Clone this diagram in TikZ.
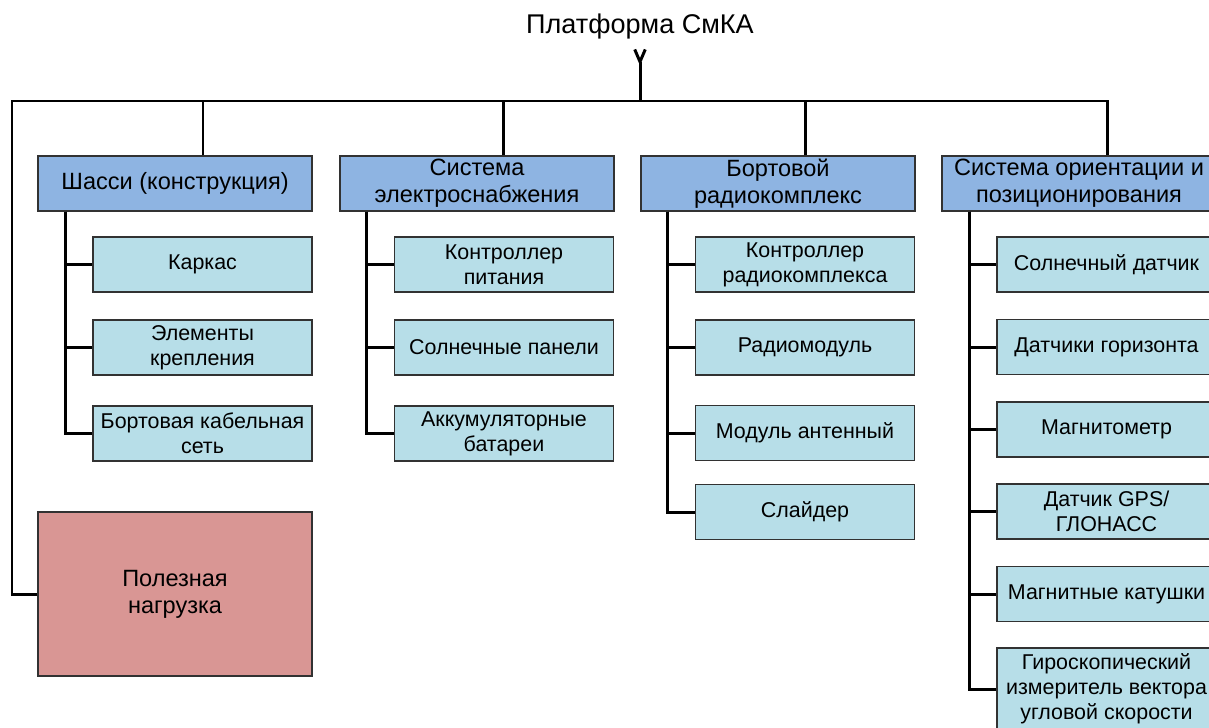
\documentclass[tikz,border=0pt]{standalone}
\usepackage{fontspec}
\setmainfont{Liberation Sans}
\usetikzlibrary{positioning, calc, arrows.meta}

\definecolor{hdrblue}{RGB}{142,180,226}
\definecolor{subblue}{RGB}{183,222,232}
\definecolor{loadred}{RGB}{217,150,148}
\definecolor{boxline}{RGB}{50,50,50}

\tikzset{
  hdr/.style={draw=boxline, line width=0.8pt, fill=hdrblue, minimum width=5.48cm, minimum height=1.1cm, align=center, inner sep=1pt, font=\fontsize{13.4}{15.3}\selectfont},
  sub/.style={draw=boxline, line width=0.8pt, fill=subblue, minimum width=4.38cm, minimum height=1.1cm, align=center, inner sep=1pt, font=\fontsize{12.2}{14.2}\selectfont},
  wire/.style={line width=1.7pt, black}
}

\begin{document}
\begin{tikzpicture}[x=0.02cm, y=-0.02cm]
			\clip (0,0) rectangle (1209,727);
			\fill[white] (0,0) rectangle (1209,727);

			\node (nt) [inner sep=0pt, font=\fontsize{15.4}{17}\selectfont] at (640,27) {Платформа СмКА};
			\coordinate (busl) at (12,101);

			\node (n1) [hdr] at (175,183.5) {Шасси (конструкция)};
			\node (n2) [hdr] at (477,183.5) {Система\\электроснабжения};
			\node (n3) [hdr] at (778,183.5) {Бортовой\\радиокомплекс};
			\node (n4) [hdr] at (1079,183.5) {Система ориентации и\\позиционирования};

			\node (n11) [sub] at (202.5,264.5) {Каркас};
			\node (n12) [sub] at (202.5,347.5) {Элементы\\крепления};
			\node (n13) [sub] at (202.5,433.5) {Бортовая кабельная\\сеть};

			\node (n21) [sub] at (504,264.5) {Контроллер\\питания};
			\node (n22) [sub] at (504,347.5) {Солнечные панели};
			\node (n23) [sub] at (504,433.5) {Аккумуляторные\\батареи};

			\node (n31) [sub] at (805,264.5) {Контроллер\\радиокомплекса};
			\node (n32) [sub] at (805,347.5) {Радиомодуль};
			\node (n33) [sub] at (805,433) {Модуль антенный};
			\node (n34) [sub] at (805,512) {Слайдер};

			\node (n41) [sub] at (1106.5,264.5) {Солнечный датчик};
			\node (n42) [sub] at (1106.5,347) {Датчики горизонта};
			\node (n43) [sub] at (1106.5,429.5) {Магнитометр};
			\node (n44) [sub] at (1106.5,511.5) {Датчик GPS/\\ГЛОНАСС};
			\node (n45) [sub] at (1106.5,594) {Магнитные катушки};
			\node (n46) [sub, minimum height=1.64cm] at (1106.5,689) {Гироскопический\\измеритель вектора\\угловой скорости};

			\node (np) [draw=boxline, line width=0.8pt, fill=loadred, minimum width=5.48cm, minimum height=3.28cm, align=center, font=\fontsize{13.4}{15.3}\selectfont] at (175,594) {Полезная\\нагрузка};

			\coordinate (d1) at ($(n1.north)+(28,0)$);
			\coordinate (d2) at ($(n2.north)+(26,0)$);
			\coordinate (d3) at ($(n3.north)+(27,0)$);
			\coordinate (d4) at ($(n4.north)+(28,0)$);

			\draw [wire, {Straight Barb[reversed, length=7pt, width=6pt]}-] ($(nt.south)+(0,8)$) -- (nt.south |- busl);
			\draw [wire] (np.west) -| (busl) -| (d4);
			\draw [wire] (d1) -- (d1 |- busl);
			\draw [wire] (d2) -- (d2 |- busl);
			\draw [wire] (d3) -- (d3 |- busl);

			\foreach \c in {11,12,13} \draw [wire] ($(n1.south west)+(28,0)$) |- (n\c.west);
			\foreach \c in {21,22,23} \draw [wire] ($(n2.south west)+(27,0)$) |- (n\c.west);
			\foreach \c in {31,32,33,34} \draw [wire] ($(n3.south west)+(27,0)$) |- (n\c.west);
			\foreach \c in {41,42,43,44,45,46} \draw [wire] ($(n4.south west)+(28,0)$) |- (n\c.west);
		\end{tikzpicture}
\end{document}
